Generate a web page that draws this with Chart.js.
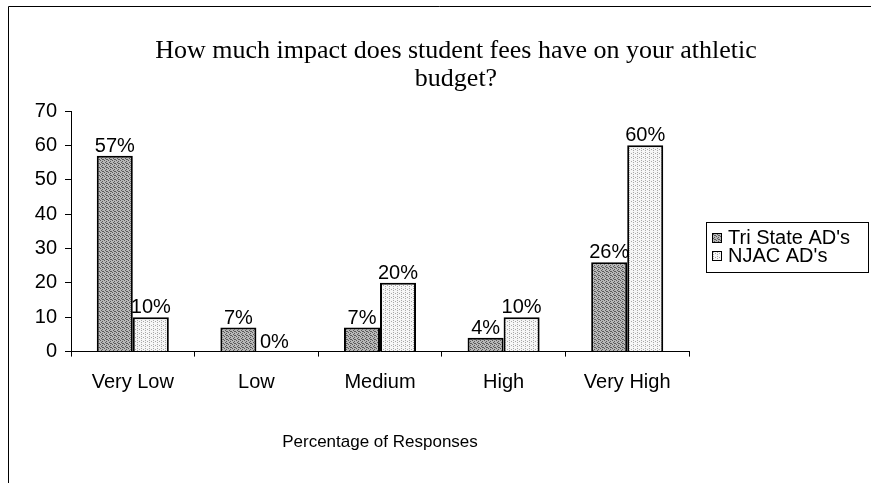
<!DOCTYPE html>
<html>
<head>
<meta charset="utf-8">
<script src="https://cdn.jsdelivr.net/npm/chart.js@4.4.1/dist/chart.umd.min.js"></script>
<style>
  html, body { margin: 0; padding: 0; background: #fff; }
  #wrap { width: 871px; height: 483px; }
</style>
</head>
<body>
<div id="wrap"><canvas id="chart"></canvas></div>
<script>
// ── Data ────────────────────────────────────────────────────────────────────
const CATEGORIES   = ['Very Low', 'Low', 'Medium', 'High', 'Very High'];
const TRI_STATE    = [57, 7, 7, 4, 26];
const NJAC         = [10, 0, 20, 10, 60];
const SERIES_NAMES = ["Tri State AD's", "NJAC AD's"];
const TITLE_LINES  = ['How much impact does student fees have on your athletic', 'budget?'];
const X_TITLE      = 'Percentage of Responses';
const Y_MIN = 0, Y_MAX = 70, Y_STEP = 10;

const SANS  = "'Liberation Sans', Arial, sans-serif";
const SERIF = "'Liberation Serif', 'Times New Roman', serif";

// ── Stipple fills ───────────────────────────────────────────────────────────
function stipple(base, dot, dots) {
  const c = document.createElement('canvas');
  c.width = 4; c.height = 4;
  const g = c.getContext('2d');
  g.fillStyle = base; g.fillRect(0, 0, 4, 4);
  g.fillStyle = dot;
  dots.forEach(([x, y]) => g.fillRect(x, y, 1, 1));
  return g.createPattern(c, 'repeat');
}
const darkFill  = stipple('#b8b8b8', '#5a5a5a', [[0,0],[2,1],[1,2],[3,3],[2,3]]);
const lightFill = stipple('#f6f6f6', '#a8a8a8', [[1,0],[1,2],[3,1]]);

// ── Plugins ─────────────────────────────────────────────────────────────────
const frame = {
  id: 'frame',
  beforeDraw(chart) {
    const ctx = chart.ctx;
    ctx.save();
    ctx.strokeStyle = '#000'; ctx.lineWidth = 1;
    ctx.beginPath();
    ctx.moveTo(8.5, chart.height); ctx.lineTo(8.5, 6.5); ctx.lineTo(chart.width, 6.5);
    ctx.stroke();
    ctx.restore();
  }
};

const titleText = {
  id: 'titleText',
  afterDraw(chart) {
    const ctx = chart.ctx;
    ctx.save();
    ctx.fillStyle = '#000';
    ctx.font = '26px ' + SERIF;
    ctx.textAlign = 'center'; ctx.textBaseline = 'middle';
    TITLE_LINES.forEach((t, i) => ctx.fillText(t, 456, 51 + i * 28));
    ctx.restore();
  }
};

const valueLabels = {
  id: 'valueLabels',
  afterDatasetsDraw(chart) {
    const ctx = chart.ctx;
    ctx.save();
    ctx.fillStyle = '#000';
    ctx.font = '20px ' + SANS;
    ctx.textAlign = 'center'; ctx.textBaseline = 'alphabetic';
    chart.data.datasets.forEach((ds, di) => {
      chart.getDatasetMeta(di).data.forEach((bar, i) => {
        ctx.fillText(ds.data[i] + '%', bar.x, bar.y - 4);
      });
    });
    ctx.restore();
  }
};

const boxLegend = {
  id: 'boxLegend',
  afterDraw(chart) {
    const ctx = chart.ctx;
    ctx.save();
    ctx.strokeStyle = '#000'; ctx.lineWidth = 1;
    ctx.strokeRect(706.5, 222.5, 162, 50);
    ctx.font = '20px ' + SANS;
    ctx.textAlign = 'left'; ctx.textBaseline = 'middle';
    chart.data.datasets.forEach((ds, i) => {
      const y = 238 + i * 18;
      ctx.fillStyle = ds.backgroundColor;
      ctx.fillRect(712, y - 5, 10, 10);
      ctx.strokeRect(712.5, y - 4.5, 9, 9);
      ctx.fillStyle = '#000';
      ctx.fillText(ds.label, 728, y);
    });
    ctx.restore();
  }
};

// ── Chart ───────────────────────────────────────────────────────────────────
new Chart(document.getElementById('chart'), {
  type: 'bar',
  data: {
    labels: CATEGORIES,
    datasets: [
      { label: SERIES_NAMES[0], data: TRI_STATE, backgroundColor: darkFill,
        borderColor: '#000', borderWidth: 2 },
      { label: SERIES_NAMES[1], data: NJAC, backgroundColor: lightFill,
        borderColor: '#000', borderWidth: 2 },
    ]
  },
  options: {
    responsive: true, maintainAspectRatio: false, animation: false,
    layout: { padding: { left: 8, right: 182, top: 111, bottom: 30 } },
    datasets: { bar: { categoryPercentage: 0.583, barPercentage: 1 } },
    plugins: { legend: { display: false }, title: { display: false }, tooltip: { enabled: false } },
    scales: {
      x: {
        offset: true,
        grid: { offset: true, drawOnChartArea: false, drawTicks: true, tickLength: 5, color: '#000' },
        border: { color: '#000', width: 1 },
        ticks: { color: '#000', font: { family: SANS, size: 20 }, padding: 14, maxRotation: 0 },
        title: { display: true, text: X_TITLE, color: '#000',
                 font: { family: SANS, size: 17 }, padding: { top: 24, bottom: 0 } }
      },
      y: {
        min: Y_MIN, max: Y_MAX,
        afterFit: s => { s.width = 63; },
        grid: { drawOnChartArea: false, drawTicks: true, tickLength: 6, color: '#000' },
        border: { color: '#000', width: 1 },
        ticks: { stepSize: Y_STEP, color: '#000', font: { family: SANS, size: 20 }, padding: 8 }
      }
    }
  },
  plugins: [frame, titleText, valueLabels, boxLegend]
});
</script>
</body>
</html>
